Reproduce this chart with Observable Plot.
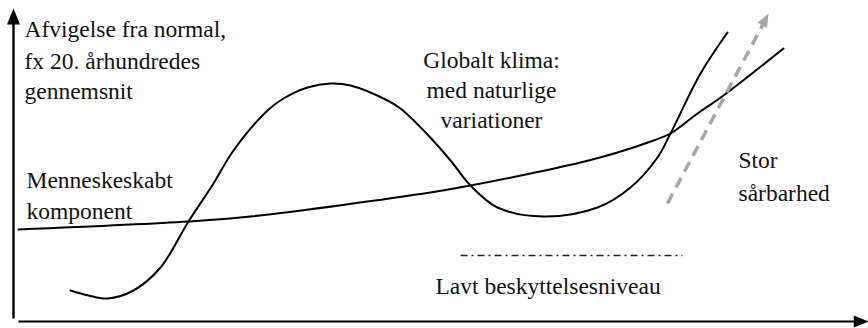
<!DOCTYPE html>
<html><head><meta charset="utf-8">
<script src="https://cdn.jsdelivr.net/npm/d3@7"></script>
<script src="https://cdn.jsdelivr.net/npm/@observablehq/plot@0.6"></script>
<style>html,body{margin:0;padding:0;background:#fff;} svg text{font-family:"Liberation Serif","Times New Roman",serif;}</style>
</head><body><div id="chart"></div>
<script>
// Conceptual diagram: x = time (arbitrary units 0..868), y = deviation (arbitrary units 0..328)
const naturalX = [70, 88, 107, 133, 160, 188, 213, 233, 267, 283, 307, 330, 350, 387, 400, 427, 450, 470, 497, 543, 597, 630, 657, 670, 700, 727];
const naturalY = [38, 33, 30, 38, 61, 107, 145, 178, 218, 230, 241, 245, 243, 228, 220, 194, 168, 143, 121, 112, 121, 141, 171, 195, 255, 296];

const humanX = [18, 188, 250, 430, 470, 530, 580, 617, 653, 670, 697, 723, 783];
const humanY = [99, 107, 112, 136, 143, 155, 166, 176, 188, 195, 215, 233, 280];

const riskX = [667, 768];
const riskY = [125, 315];

const lowLevelX = [460, 682];
const lowLevelY = [73, 73];

const axisYX = 13, axisYFrom = 10, axisYTo = 320;
const axisXY = 7, axisXFrom = 18, axisXTo = 868;

const leftLabels = ["Afvigelse fra normal,", "fx 20. århundredes", "gennemsnit", "Menneskeskabt", "komponent", "Stor", "sårbarhed", "Lavt beskyttelsesniveau"];
const leftLabelX = [24, 24, 24, 26, 26, 738, 738, 435];
const leftLabelY = [292, 260, 230, 141, 110, 161, 128, 35];

const centerLabels = ["Globalt klima:", "med naturlige", "variationer"];
const centerLabelX = [491, 491, 491];
const centerLabelY = [261, 231, 201];

const natural = naturalX.map((x, i) => ({x, y: naturalY[i]}));
const human = humanX.map((x, i) => ({x, y: humanY[i]}));
const left = leftLabels.map((t, i) => ({t, x: leftLabelX[i], y: leftLabelY[i]}));
const center = centerLabels.map((t, i) => ({t, x: centerLabelX[i], y: centerLabelY[i]}));

const arrowHead = {
  draw(context, size) {
    const r = Math.sqrt(size / Math.PI);
    const L = 3.2 * r, w = 1.3 * r;
    context.moveTo(0, 0);
    context.lineTo(w, L);
    context.lineTo(-w, L);
    context.closePath();
  }
};

const font = '"Liberation Serif", "Times New Roman", serif';
const fs = 23.5;

const chart = Plot.plot({
  width: 868, height: 328,
  marginTop: 0, marginBottom: 0, marginLeft: 0, marginRight: 0,
  x: {domain: [0, 868], axis: null},
  y: {domain: [0, 328], axis: null},
  style: {background: "#fff", fontFamily: font},
  marks: [
    // axes
    Plot.link([0], {x1: axisYX, x2: axisYX, y1: axisYFrom, y2: axisYTo - 14, stroke: "#000", strokeWidth: 2.5}),
    Plot.link([0], {x1: axisXFrom, x2: axisXTo - 10, y1: axisXY, y2: axisXY, stroke: "#000", strokeWidth: 2.2}),
    Plot.dot([0], {x: axisYX, y: axisYTo, symbol: arrowHead, r: 5, fill: "#000", stroke: null}),
    Plot.dot([0], {x: axisXTo, y: axisXY, symbol: arrowHead, r: 4.6, rotate: 90, fill: "#000", stroke: null}),
    // curves
    Plot.line(human, {x: "x", y: "y", curve: "catmull-rom", stroke: "#000", strokeWidth: 2}),
    Plot.line(natural, {x: "x", y: "y", curve: "catmull-rom", stroke: "#000", strokeWidth: 2}),
    // dashed risk arrow
    Plot.link([0], {x1: riskX[0], y1: riskY[0], x2: riskX[1] - 4, y2: riskY[1] - 8, stroke: "#a6a6a6", strokeWidth: 3.5, strokeDasharray: "11,7"}),
    Plot.dot([0], {x: riskX[1], y: riskY[1], symbol: arrowHead, r: 4.2, rotate: 28, fill: "#a6a6a6", stroke: null}),
    // low protection level
    Plot.link([0], {x1: lowLevelX[0], x2: lowLevelX[1], y1: lowLevelY[0], y2: lowLevelY[1], stroke: "#222", strokeWidth: 1.5, strokeDasharray: "7,4,2,4"}),
    // labels
    Plot.text(left, {x: "x", y: "y", text: "t", textAnchor: "start", lineAnchor: "bottom", fontFamily: font, fontSize: fs, fill: "#111"}),
    Plot.text(center, {x: "x", y: "y", text: "t", textAnchor: "middle", lineAnchor: "bottom", fontFamily: font, fontSize: fs, fill: "#111"})
  ]
});
document.getElementById("chart").append(chart);
</script>
</body></html>
